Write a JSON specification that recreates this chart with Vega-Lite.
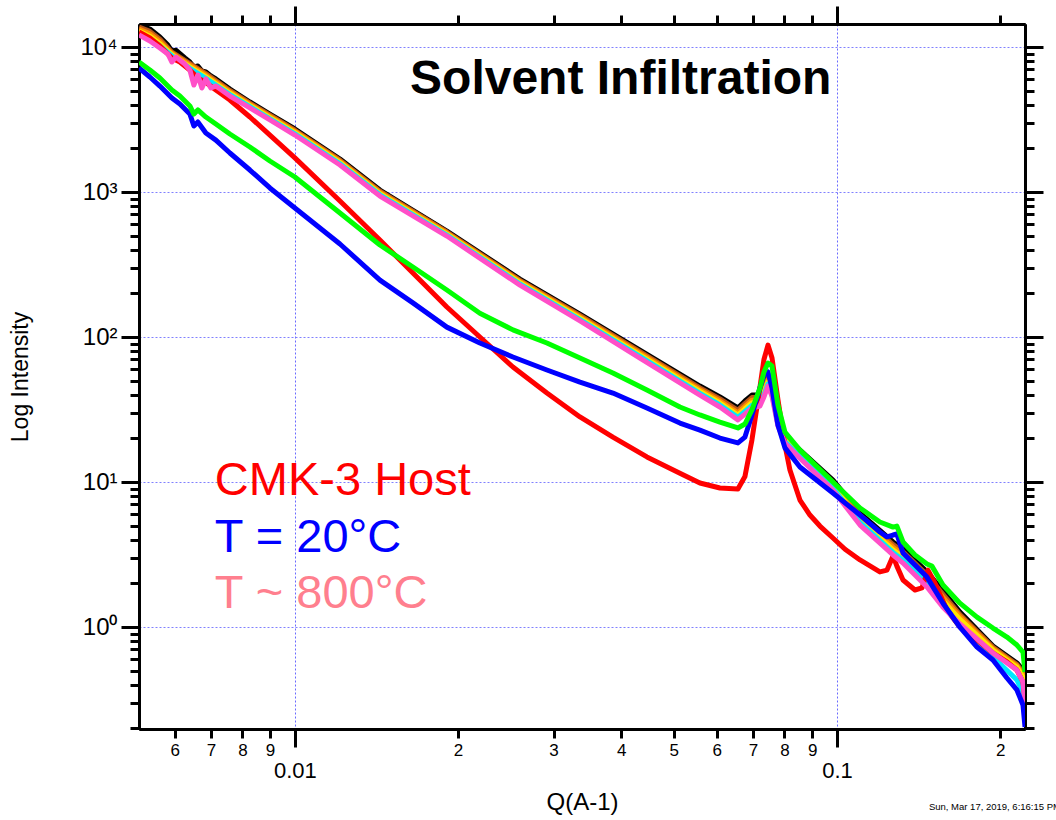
{
  "$schema": "https://vega.github.io/schema/vega-lite/v6.json",
  "width": 886,
  "height": 705,
  "autosize": {"type": "none"},
  "padding": {"left": 139, "top": 24, "right": 31, "bottom": 91},
  "background": "white",
  "config": {
    "view": {"stroke": null},
    "axis": {
      "domainColor": "#000000", "domainWidth": 3, "tickColor": "#000000", "tickWidth": 3,
      "labelColor": "#000000", "labelFont": "Liberation Sans", "titleFont": "Liberation Sans",
      "titleColor": "#000000", "titleFontWeight": "normal", "labelOverlap": false, "labelFlush": false, "labelBound": false
    }
  },
  "resolve": {"axis": {"x": "independent", "y": "independent"}},
  "datasets": {
    "notes": [
      {"key": "host", "text": "CMK-3 Host", "q": 0.007118, "i": 8.135},
      {"key": "t20", "text": "T = 20°C", "q": 0.007118, "i": 3.289},
      {"key": "t800", "text": "T ~ 800°C", "q": 0.007118, "i": 1.352},
      {"key": "title", "text": "Solvent Infiltration", "q": 0.01631, "i": 4742},
      {"key": "stamp", "text": "Sun, Mar 17, 2019, 6:16:15 PM", "q": 0.1478, "i": 0.0547}
    ],
    "curves": [
      {"s":"black","q":0.005157,"i":14180},{"s":"black","q":0.005401,"i":13310},{"s":"black","q":0.005635,"i":11720},{"s":"black","q":0.00583,"i":10320},{"s":"black","q":0.00593,"i":9380},{"s":"black","q":0.006031,"i":9500},{"s":"black","q":0.006266,"i":8400},{"s":"black","q":0.006401,"i":7880},{"s":"black","q":0.006511,"i":7280},{"s":"black","q":0.006622,"i":7400},{"s":"black","q":0.006736,"i":6830},{"s":"black","q":0.006851,"i":6720},{"s":"black","q":0.006998,"i":6310},{"s":"black","q":0.007148,"i":6020},{"s":"black","q":0.007587,"i":5130},{"s":"black","q":0.00826,"i":4175},{"s":"black","q":0.008993,"i":3450},{"s":"black","q":0.01,"i":2719},{"s":"black","q":0.01211,"i":1689},{"s":"black","q":0.01435,"i":1032},{"s":"black","q":0.01907,"i":538},{"s":"black","q":0.02601,"i":251},{"s":"black","q":0.03357,"i":144},{"s":"black","q":0.0433,"i":81.3},{"s":"black","q":0.05587,"i":45.9},{"s":"black","q":0.06083,"i":38.6},{"s":"black","q":0.06566,"i":32.4},{"s":"black","q":0.06765,"i":36.2},{"s":"black","q":0.06969,"i":39.8},{"s":"black","q":0.0721,"i":39.8},{"s":"black","q":0.07334,"i":45.2},{"s":"black","q":0.0746,"i":53.8},{"s":"black","q":0.07588,"i":45.2},{"s":"black","q":0.07783,"i":27.6},{"s":"black","q":0.08018,"i":20.8},{"s":"black","q":0.08545,"i":16.6},{"s":"black","q":0.09831,"i":10.3},{"s":"black","q":0.1103,"i":6.11},{"s":"black","q":0.1269,"i":3.86},{"s":"black","q":0.1324,"i":3.45},{"s":"black","q":0.1466,"i":2.4},{"s":"black","q":0.1569,"i":1.77},{"s":"black","q":0.1686,"i":1.27},{"s":"black","q":0.194,"i":0.74},{"s":"black","q":0.2148,"i":0.565},{"s":"black","q":0.2204,"i":0.505},{"s":"black","q":0.2223,"i":0.431},

      {"s":"brown","q":0.005157,"i":13740},{"s":"brown","q":0.005401,"i":12810},{"s":"brown","q":0.005635,"i":11320},{"s":"brown","q":0.00593,"i":9205},{"s":"brown","q":0.006401,"i":7685},{"s":"brown","q":0.006851,"i":6552},{"s":"brown","q":0.007587,"i":5018},{"s":"brown","q":0.00826,"i":4099},{"s":"brown","q":0.008993,"i":3385},{"s":"brown","q":0.01,"i":2668},{"s":"brown","q":0.01211,"i":1658},{"s":"brown","q":0.01435,"i":1013},{"s":"brown","q":0.01907,"i":530},{"s":"brown","q":0.02601,"i":246},{"s":"brown","q":0.03357,"i":140.9},{"s":"brown","q":0.0433,"i":79.3},{"s":"brown","q":0.05587,"i":44.6},{"s":"brown","q":0.06083,"i":37.4},{"s":"brown","q":0.06566,"i":31.2},{"s":"brown","q":0.06765,"i":34.7},{"s":"brown","q":0.06969,"i":38.2},{"s":"brown","q":0.0721,"i":38.4},{"s":"brown","q":0.07334,"i":43.8},{"s":"brown","q":0.0746,"i":52.1},{"s":"brown","q":0.07588,"i":43.9},{"s":"brown","q":0.07783,"i":26.9},{"s":"brown","q":0.08018,"i":20.3},{"s":"brown","q":0.08545,"i":16.2},{"s":"brown","q":0.09831,"i":9.98},{"s":"brown","q":0.1103,"i":5.88},{"s":"brown","q":0.1269,"i":3.7},{"s":"brown","q":0.1324,"i":3.3},{"s":"brown","q":0.1466,"i":2.29},{"s":"brown","q":0.1569,"i":1.68},{"s":"brown","q":0.1686,"i":1.22},{"s":"brown","q":0.194,"i":0.724},{"s":"brown","q":0.2148,"i":0.552},{"s":"brown","q":0.2204,"i":0.486},{"s":"brown","q":0.2223,"i":0.401},

      {"s":"orange","q":0.005157,"i":13310},{"s":"orange","q":0.005401,"i":12330},{"s":"orange","q":0.005635,"i":10930},{"s":"orange","q":0.00593,"i":9030},{"s":"orange","q":0.006401,"i":7493},{"s":"orange","q":0.006851,"i":6388},{"s":"orange","q":0.007587,"i":4909},{"s":"orange","q":0.00826,"i":4022},{"s":"orange","q":0.008993,"i":3322},{"s":"orange","q":0.01,"i":2618},{"s":"orange","q":0.01211,"i":1627},{"s":"orange","q":0.01435,"i":994},{"s":"orange","q":0.01907,"i":521.5},{"s":"orange","q":0.02601,"i":241.5},{"s":"orange","q":0.03357,"i":137.8},{"s":"orange","q":0.0433,"i":77.3},{"s":"orange","q":0.05587,"i":43.4},{"s":"orange","q":0.06083,"i":36.2},{"s":"orange","q":0.06566,"i":30},{"s":"orange","q":0.06765,"i":33.3},{"s":"orange","q":0.06969,"i":36.7},{"s":"orange","q":0.0721,"i":37.1},{"s":"orange","q":0.07334,"i":42.4},{"s":"orange","q":0.0746,"i":50.5},{"s":"orange","q":0.07588,"i":42.7},{"s":"orange","q":0.07783,"i":26.2},{"s":"orange","q":0.08018,"i":19.9},{"s":"orange","q":0.08545,"i":15.8},{"s":"orange","q":0.09831,"i":9.67},{"s":"orange","q":0.1103,"i":5.66},{"s":"orange","q":0.1269,"i":3.55},{"s":"orange","q":0.1324,"i":3.16},{"s":"orange","q":0.1466,"i":2.18},{"s":"orange","q":0.1569,"i":1.6},{"s":"orange","q":0.1686,"i":1.18},{"s":"orange","q":0.194,"i":0.708},{"s":"orange","q":0.2148,"i":0.54},{"s":"orange","q":0.2204,"i":0.468},{"s":"orange","q":0.2223,"i":0.372},

      {"s":"yellow","q":0.005157,"i":12890},{"s":"yellow","q":0.005401,"i":11870},{"s":"yellow","q":0.005635,"i":10550},{"s":"yellow","q":0.00593,"i":8863},{"s":"yellow","q":0.006401,"i":7305},{"s":"yellow","q":0.006851,"i":6228},{"s":"yellow","q":0.007587,"i":4802},{"s":"yellow","q":0.00826,"i":3947},{"s":"yellow","q":0.008993,"i":3260},{"s":"yellow","q":0.01,"i":2569},{"s":"yellow","q":0.01211,"i":1596},{"s":"yellow","q":0.01435,"i":975},{"s":"yellow","q":0.01907,"i":513},{"s":"yellow","q":0.02601,"i":237},{"s":"yellow","q":0.03357,"i":134.8},{"s":"yellow","q":0.0433,"i":75.4},{"s":"yellow","q":0.05587,"i":42.1},{"s":"yellow","q":0.06083,"i":35.1},{"s":"yellow","q":0.06566,"i":28.9},{"s":"yellow","q":0.06765,"i":32},{"s":"yellow","q":0.06969,"i":35.2},{"s":"yellow","q":0.0721,"i":35.8},{"s":"yellow","q":0.07334,"i":41.1},{"s":"yellow","q":0.0746,"i":48.9},{"s":"yellow","q":0.07588,"i":41.5},{"s":"yellow","q":0.07783,"i":25.6},{"s":"yellow","q":0.08018,"i":19.4},{"s":"yellow","q":0.08545,"i":15.4},{"s":"yellow","q":0.09831,"i":9.38},{"s":"yellow","q":0.1103,"i":5.45},{"s":"yellow","q":0.1269,"i":3.41},{"s":"yellow","q":0.1324,"i":3.02},{"s":"yellow","q":0.1466,"i":2.08},{"s":"yellow","q":0.1569,"i":1.52},{"s":"yellow","q":0.1686,"i":1.13},{"s":"yellow","q":0.194,"i":0.692},{"s":"yellow","q":0.2148,"i":0.528},{"s":"yellow","q":0.2204,"i":0.451},{"s":"yellow","q":0.2223,"i":0.346},

      {"s":"cyan","q":0.005157,"i":12490},{"s":"cyan","q":0.005401,"i":11420},{"s":"cyan","q":0.005635,"i":10190},{"s":"cyan","q":0.00593,"i":8698},{"s":"cyan","q":0.006401,"i":7122},{"s":"cyan","q":0.006851,"i":6072},{"s":"cyan","q":0.007587,"i":4697},{"s":"cyan","q":0.00826,"i":3873},{"s":"cyan","q":0.008993,"i":3199},{"s":"cyan","q":0.01,"i":2521},{"s":"cyan","q":0.01211,"i":1566},{"s":"cyan","q":0.01435,"i":957},{"s":"cyan","q":0.01907,"i":505},{"s":"cyan","q":0.02601,"i":232},{"s":"cyan","q":0.03357,"i":131.8},{"s":"cyan","q":0.0433,"i":73.5},{"s":"cyan","q":0.05587,"i":40.9},{"s":"cyan","q":0.06083,"i":34},{"s":"cyan","q":0.06566,"i":27.9},{"s":"cyan","q":0.06765,"i":30.7},{"s":"cyan","q":0.06969,"i":33.8},{"s":"cyan","q":0.0721,"i":34.6},{"s":"cyan","q":0.07334,"i":39.8},{"s":"cyan","q":0.0746,"i":47.4},{"s":"cyan","q":0.07588,"i":40.3},{"s":"cyan","q":0.07783,"i":24.9},{"s":"cyan","q":0.08018,"i":19},{"s":"cyan","q":0.08545,"i":15},{"s":"cyan","q":0.09831,"i":9.09},{"s":"cyan","q":0.1103,"i":5.24},{"s":"cyan","q":0.1269,"i":3.27},{"s":"cyan","q":0.1324,"i":2.89},{"s":"cyan","q":0.1466,"i":1.98},{"s":"cyan","q":0.1569,"i":1.44},{"s":"cyan","q":0.1686,"i":1.0},{"s":"cyan","q":0.194,"i":0.621},{"s":"cyan","q":0.2148,"i":0.431},{"s":"cyan","q":0.2204,"i":0.356},{"s":"cyan","q":0.2223,"i":0.281},

      {"s":"red","q":0.005157,"i":12690},{"s":"red","q":0.005401,"i":11540},{"s":"red","q":0.005635,"i":10160},{"s":"red","q":0.00593,"i":8400},{"s":"red","q":0.006135,"i":7880},{"s":"red","q":0.006401,"i":6940},{"s":"red","q":0.006511,"i":6510},{"s":"red","q":0.006622,"i":6110},{"s":"red","q":0.006851,"i":5700},{"s":"red","q":0.007148,"i":5050},{"s":"red","q":0.007587,"i":4310},{"s":"red","q":0.00826,"i":3290},{"s":"red","q":0.008993,"i":2470},{"s":"red","q":0.01,"i":1720},{"s":"red","q":0.01211,"i":867},{"s":"red","q":0.01435,"i":467},{"s":"red","q":0.01651,"i":276},{"s":"red","q":0.01907,"i":161},{"s":"red","q":0.02194,"i":100},{"s":"red","q":0.02525,"i":62.1},{"s":"red","q":0.02917,"i":41.1},{"s":"red","q":0.03357,"i":28.1},{"s":"red","q":0.03861,"i":20.4},{"s":"red","q":0.04461,"i":14.9},{"s":"red","q":0.05132,"i":11.5},{"s":"red","q":0.05587,"i":9.84},{"s":"red","q":0.06083,"i":9.09},{"s":"red","q":0.06566,"i":8.95},{"s":"red","q":0.06765,"i":10.9},{"s":"red","q":0.06969,"i":19.5},{"s":"red","q":0.0721,"i":45},{"s":"red","q":0.07334,"i":70},{"s":"red","q":0.0746,"i":88},{"s":"red","q":0.07588,"i":72},{"s":"red","q":0.07783,"i":37},{"s":"red","q":0.08018,"i":18},{"s":"red","q":0.0819,"i":12.1},{"s":"red","q":0.08545,"i":7.51},{"s":"red","q":0.08916,"i":5.92},{"s":"red","q":0.09303,"i":4.97},{"s":"red","q":0.09831,"i":4.11},{"s":"red","q":0.1035,"i":3.44},{"s":"red","q":0.1103,"i":2.9},{"s":"red","q":0.12,"i":2.4},{"s":"red","q":0.1237,"i":2.47},{"s":"red","q":0.1269,"i":3.09},{"s":"red","q":0.129,"i":2.63},{"s":"red","q":0.1324,"i":2.11},{"s":"red","q":0.1393,"i":1.8},{"s":"red","q":0.1435,"i":1.86},{"s":"red","q":0.1472,"i":2.47},{"s":"red","q":0.1516,"i":2.01},{"s":"red","q":0.1596,"i":1.31},{"s":"red","q":0.1686,"i":1.0},{"s":"red","q":0.1813,"i":0.813},{"s":"red","q":0.194,"i":0.662},{"s":"red","q":0.2059,"i":0.574},{"s":"red","q":0.2148,"i":0.505},{"s":"red","q":0.2204,"i":0.418},{"s":"red","q":0.2223,"i":0.314},

      {"s":"pink","q":0.005157,"i":12100},{"s":"pink","q":0.005401,"i":11000},{"s":"pink","q":0.005635,"i":9840},{"s":"pink","q":0.00583,"i":8950},{"s":"pink","q":0.00593,"i":7880},{"s":"pink","q":0.006031,"i":8530},{"s":"pink","q":0.006266,"i":7630},{"s":"pink","q":0.006401,"i":6940},{"s":"pink","q":0.006511,"i":5470},{"s":"pink","q":0.006622,"i":6410},{"s":"pink","q":0.006736,"i":5215},{"s":"pink","q":0.006851,"i":6020},{"s":"pink","q":0.006998,"i":5215},{"s":"pink","q":0.007148,"i":5380},{"s":"pink","q":0.007587,"i":4590},{"s":"pink","q":0.00826,"i":3800},{"s":"pink","q":0.008993,"i":3140},{"s":"pink","q":0.01,"i":2472},{"s":"pink","q":0.01211,"i":1536},{"s":"pink","q":0.01435,"i":938},{"s":"pink","q":0.01907,"i":497},{"s":"pink","q":0.02601,"i":228},{"s":"pink","q":0.03357,"i":129},{"s":"pink","q":0.0433,"i":71.6},{"s":"pink","q":0.05587,"i":39.8},{"s":"pink","q":0.06083,"i":32.9},{"s":"pink","q":0.06566,"i":26.8},{"s":"pink","q":0.06765,"i":29.4},{"s":"pink","q":0.06969,"i":32.4},{"s":"pink","q":0.0721,"i":33.4},{"s":"pink","q":0.07334,"i":38.6},{"s":"pink","q":0.0746,"i":45.9},{"s":"pink","q":0.07588,"i":39.2},{"s":"pink","q":0.07783,"i":24.3},{"s":"pink","q":0.08018,"i":18.6},{"s":"pink","q":0.08545,"i":14.6},{"s":"pink","q":0.09831,"i":8.81},{"s":"pink","q":0.1103,"i":5.05},{"s":"pink","q":0.1269,"i":3.14},{"s":"pink","q":0.1324,"i":2.76},{"s":"pink","q":0.1466,"i":1.89},{"s":"pink","q":0.1569,"i":1.37},{"s":"pink","q":0.1686,"i":1.05},{"s":"pink","q":0.194,"i":0.662},{"s":"pink","q":0.2148,"i":0.505},{"s":"pink","q":0.2204,"i":0.418},{"s":"pink","q":0.2223,"i":0.299},

      {"s":"blue","q":0.005157,"i":7160},{"s":"blue","q":0.005401,"i":6210},{"s":"blue","q":0.005635,"i":5380},{"s":"blue","q":0.00593,"i":4450},{"s":"blue","q":0.006135,"i":4045},{"s":"blue","q":0.006401,"i":3450},{"s":"blue","q":0.006511,"i":2850},{"s":"blue","q":0.006622,"i":3040},{"s":"blue","q":0.006851,"i":2550},{"s":"blue","q":0.007148,"i":2280},{"s":"blue","q":0.007587,"i":1858},{"s":"blue","q":0.00826,"i":1418},{"s":"blue","q":0.008993,"i":1066},{"s":"blue","q":0.01,"i":776},{"s":"blue","q":0.01211,"i":438},{"s":"blue","q":0.01435,"i":247},{"s":"blue","q":0.01651,"i":172},{"s":"blue","q":0.01907,"i":117},{"s":"blue","q":0.02194,"i":90.9},{"s":"blue","q":0.02525,"i":72.8},{"s":"blue","q":0.02917,"i":59.2},{"s":"blue","q":0.03357,"i":48.9},{"s":"blue","q":0.03861,"i":41.1},{"s":"blue","q":0.04461,"i":32.4},{"s":"blue","q":0.05132,"i":25.5},{"s":"blue","q":0.05587,"i":22.8},{"s":"blue","q":0.06083,"i":20.1},{"s":"blue","q":0.06566,"i":18.6},{"s":"blue","q":0.06765,"i":20.4},{"s":"blue","q":0.06969,"i":29},{"s":"blue","q":0.0721,"i":44.5},{"s":"blue","q":0.07334,"i":54.7},{"s":"blue","q":0.0746,"i":57.4},{"s":"blue","q":0.07588,"i":44.5},{"s":"blue","q":0.07783,"i":24.7},{"s":"blue","q":0.08018,"i":17.2},{"s":"blue","q":0.08545,"i":12.7},{"s":"blue","q":0.09831,"i":8.4},{"s":"blue","q":0.1103,"i":5.92},{"s":"blue","q":0.12,"i":4.52},{"s":"blue","q":0.1237,"i":4.18},{"s":"blue","q":0.1269,"i":4.31},{"s":"blue","q":0.129,"i":4.38},{"s":"blue","q":0.1324,"i":3.24},{"s":"blue","q":0.1393,"i":2.68},{"s":"blue","q":0.1466,"i":2.21},{"s":"blue","q":0.1569,"i":1.46},{"s":"blue","q":0.1686,"i":1.0},{"s":"blue","q":0.1813,"i":0.728},{"s":"blue","q":0.194,"i":0.592},{"s":"blue","q":0.2059,"i":0.445},{"s":"blue","q":0.2148,"i":0.368},{"s":"blue","q":0.2204,"i":0.29},{"s":"blue","q":0.2223,"i":0.204},

      {"s":"green","q":0.005157,"i":7880},{"s":"green","q":0.005401,"i":6940},{"s":"green","q":0.005635,"i":6110},{"s":"green","q":0.00593,"i":5050},{"s":"green","q":0.006135,"i":4590},{"s":"green","q":0.006401,"i":3920},{"s":"green","q":0.006511,"i":3450},{"s":"green","q":0.006622,"i":3680},{"s":"green","q":0.006851,"i":3290},{"s":"green","q":0.007148,"i":2944},{"s":"green","q":0.007587,"i":2512},{"s":"green","q":0.00826,"i":2043},{"s":"green","q":0.008993,"i":1636},{"s":"green","q":0.01,"i":1269},{"s":"green","q":0.01211,"i":716},{"s":"green","q":0.01435,"i":431},{"s":"green","q":0.01651,"i":304},{"s":"green","q":0.01907,"i":211},{"s":"green","q":0.02194,"i":146},{"s":"green","q":0.02525,"i":112},{"s":"green","q":0.02917,"i":90.9},{"s":"green","q":0.03357,"i":71.6},{"s":"green","q":0.03861,"i":56.5},{"s":"green","q":0.04461,"i":43.1},{"s":"green","q":0.05132,"i":32.9},{"s":"green","q":0.05587,"i":29},{"s":"green","q":0.06083,"i":25.9},{"s":"green","q":0.06566,"i":23.6},{"s":"green","q":0.06765,"i":25.1},{"s":"green","q":0.06969,"i":31.4},{"s":"green","q":0.0721,"i":44.5},{"s":"green","q":0.07334,"i":57.4},{"s":"green","q":0.0746,"i":66.2},{"s":"green","q":0.07588,"i":63.1},{"s":"green","q":0.07783,"i":34},{"s":"green","q":0.08018,"i":22.1},{"s":"green","q":0.08545,"i":16.6},{"s":"green","q":0.09831,"i":10},{"s":"green","q":0.1103,"i":6.62},{"s":"green","q":0.12,"i":5.3},{"s":"green","q":0.1269,"i":4.89},{"s":"green","q":0.129,"i":4.97},{"s":"green","q":0.1324,"i":3.86},{"s":"green","q":0.1393,"i":3.14},{"s":"green","q":0.1466,"i":2.72},{"s":"green","q":0.1497,"i":2.63},{"s":"green","q":0.1569,"i":1.95},{"s":"green","q":0.1686,"i":1.46},{"s":"green","q":0.1813,"i":1.17},{"s":"green","q":0.194,"i":0.984},{"s":"green","q":0.2059,"i":0.853},{"s":"green","q":0.2148,"i":0.751},{"s":"green","q":0.2204,"i":0.672},{"s":"green","q":0.2223,"i":0.489}
    ]
  },
  "layer": [
    {
      "data": {"name": "curves"},
      "mark": {"type": "line", "strokeWidth": 5, "clip": true, "strokeJoin": "round"},
      "encoding": {
        "x": {"field": "q", "type": "quantitative",
          "scale": {"type": "log", "domain": [0.005157, 0.2223], "nice": false},
          "axis": {"orient": "bottom", "values": [0.01, 0.1], "tickSize": 18, "labelFontSize": 22, "labelPadding": 13,
            "labelExpr": "datum.value < 0.05 ? '0.01' : '0.1'", "grid": true, "gridColor": "#6a6aff", "gridDash": [2, 2], "gridWidth": 1,
            "title": "Q(A-1)", "titleFontSize": 24, "titlePadding": 9}},
        "y": {"field": "i", "type": "quantitative",
          "scale": {"type": "log", "domain": [0.198, 14410], "nice": false},
          "axis": {"orient": "left", "values": [1, 10, 100, 1000, 10000], "tickSize": 18, "labelFontSize": 24, "labelPadding": 4,
            "labelExpr": "datum.value >= 9999 ? '10⁴' : datum.value >= 999 ? '10³' : datum.value >= 99 ? '10²' : datum.value >= 9 ? '10¹' : '10⁰'",
            "grid": true, "gridColor": "#8080ff", "gridDash": [2, 2], "gridWidth": 1,
            "title": "Log Intensity", "titleFontSize": 23, "titlePadding": 47}},
        "color": {"field": "s", "type": "nominal", "legend": null,
          "scale": {"domain": ["black", "brown", "orange", "yellow", "cyan", "red", "pink", "blue", "green"],
            "range": ["#000000", "#b8561c", "#ff8c00", "#ffe600", "#00e8ff", "#ff0000", "#ff4fc8", "#0000ff", "#00ff00"]}}
      }
    },
    {
      "data": {"name": "notes"},
      "transform": [{"filter": "datum.key == 'host'"}],
      "mark": {"type": "text", "color": "#ff0000", "fontSize": 47, "font": "Liberation Sans", "align": "left", "baseline": "alphabetic"},
      "encoding": {
        "x": {"field": "q", "type": "quantitative", "scale": {"type": "log", "domain": [0.005157, 0.2223], "nice": false},
          "axis": {"orient": "bottom", "values": [0.006, 0.007, 0.008, 0.009, 0.02, 0.03, 0.04, 0.05, 0.06, 0.07, 0.08, 0.09, 0.2],
            "tickSize": 9, "labelFontSize": 17, "labelPadding": 4, "grid": false, "title": null,
            "labelExpr": "'' + round(datum.value / pow(10, floor(log(datum.value) / LN10 + 0.000001)))"}},
        "y": {"field": "i", "type": "quantitative", "scale": {"type": "log", "domain": [0.198, 14410], "nice": false},
          "axis": {"orient": "left", "values": [0.2, 0.3, 0.4, 0.5, 0.6, 0.7, 0.8, 0.9, 2, 3, 4, 5, 6, 7, 8, 9, 20, 30, 40, 50, 60, 70, 80, 90, 200, 300, 400, 500, 600, 700, 800, 900, 2000, 3000, 4000, 5000, 6000, 7000, 8000, 9000],
            "tickSize": 9, "labels": false, "grid": false, "title": null}},
        "text": {"field": "text", "type": "nominal"}
      }
    },
    {
      "data": {"name": "notes"},
      "transform": [{"filter": "datum.key == 't20'"}],
      "mark": {"type": "text", "color": "#0000ff", "fontSize": 47, "font": "Liberation Sans", "align": "left", "baseline": "alphabetic"},
      "encoding": {
        "x": {"field": "q", "type": "quantitative", "scale": {"type": "log", "domain": [0.005157, 0.2223], "nice": false},
          "axis": {"orient": "top", "values": [0.01, 0.1], "tickSize": 18, "labels": false, "grid": false, "title": null}},
        "y": {"field": "i", "type": "quantitative", "scale": {"type": "log", "domain": [0.198, 14410], "nice": false},
          "axis": {"orient": "right", "values": [1, 10, 100, 1000, 10000], "tickSize": 18, "labels": false, "grid": false, "title": null}},
        "text": {"field": "text", "type": "nominal"}
      }
    },
    {
      "data": {"name": "notes"},
      "transform": [{"filter": "datum.key == 't800'"}],
      "mark": {"type": "text", "color": "#ff7f8e", "fontSize": 47, "font": "Liberation Sans", "align": "left", "baseline": "alphabetic"},
      "encoding": {
        "x": {"field": "q", "type": "quantitative", "scale": {"type": "log", "domain": [0.005157, 0.2223], "nice": false},
          "axis": {"orient": "top", "values": [0.006, 0.007, 0.008, 0.009, 0.02, 0.03, 0.04, 0.05, 0.06, 0.07, 0.08, 0.09, 0.2], "tickSize": 9, "labels": false, "grid": false, "title": null}},
        "y": {"field": "i", "type": "quantitative", "scale": {"type": "log", "domain": [0.198, 14410], "nice": false},
          "axis": {"orient": "right", "values": [0.2, 0.3, 0.4, 0.5, 0.6, 0.7, 0.8, 0.9, 2, 3, 4, 5, 6, 7, 8, 9, 20, 30, 40, 50, 60, 70, 80, 90, 200, 300, 400, 500, 600, 700, 800, 900, 2000, 3000, 4000, 5000, 6000, 7000, 8000, 9000],
            "tickSize": 9, "labels": false, "grid": false, "title": null}},
        "text": {"field": "text", "type": "nominal"}
      }
    },
    {
      "data": {"name": "notes"},
      "transform": [{"filter": "datum.key == 'title'"}],
      "mark": {"type": "text", "color": "#000000", "fontSize": 48, "fontWeight": "bold", "font": "Liberation Sans", "align": "left", "baseline": "alphabetic"},
      "encoding": {
        "x": {"field": "q", "type": "quantitative", "scale": {"type": "log", "domain": [0.005157, 0.2223], "nice": false}, "axis": null},
        "y": {"field": "i", "type": "quantitative", "scale": {"type": "log", "domain": [0.198, 14410], "nice": false}, "axis": null},
        "text": {"field": "text", "type": "nominal"}
      }
    },
    {
      "data": {"name": "notes"},
      "transform": [{"filter": "datum.key == 'stamp'"}],
      "mark": {"type": "text", "color": "#000000", "fontSize": 9.5, "font": "Liberation Sans", "align": "left", "baseline": "alphabetic"},
      "encoding": {
        "x": {"field": "q", "type": "quantitative", "scale": {"type": "log", "domain": [0.005157, 0.2223], "nice": false}, "axis": null},
        "y": {"field": "i", "type": "quantitative", "scale": {"type": "log", "domain": [0.198, 14410], "nice": false}, "axis": null},
        "text": {"field": "text", "type": "nominal"}
      }
    }
  ]
}
